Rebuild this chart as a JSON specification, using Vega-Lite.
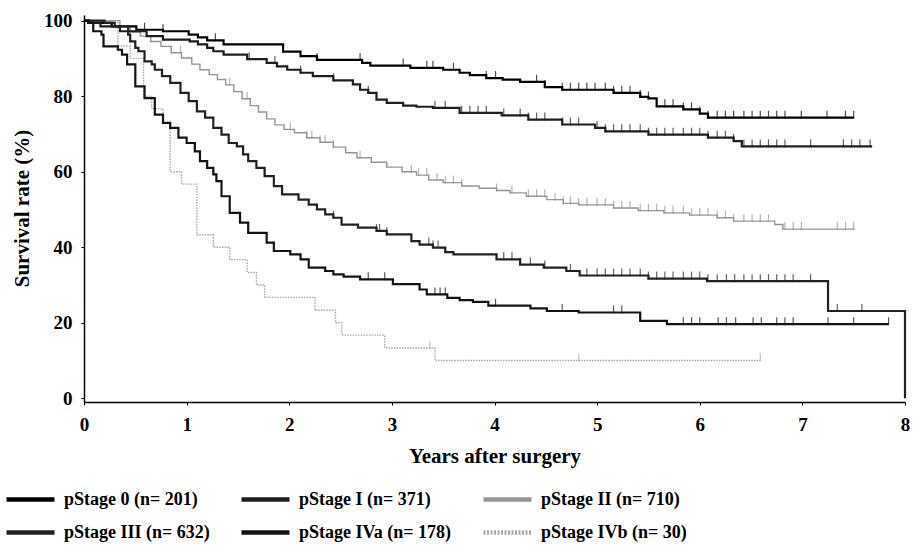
{
"$schema": "https://vega.github.io/schema/vega-lite/v6.json",
"width": 821, "height": 387,
"autosize": {"type": "none"},
"padding": {"left": 84, "top": 15, "right": 9, "bottom": 147},
"background": "white",
"config": {"view": {"stroke": null}, "font": "Liberation Serif"},
"datasets": {
"curves": [
{"s":"0","t":0,"p":100},{"s":"0","t":0.05,"p":99.4},{"s":"0","t":0.27,"p":98.5},{"s":"0","t":0.51,"p":97.6},{"s":"0","t":0.77,"p":97.2},{"s":"0","t":1.02,"p":96.3},{"s":"0","t":1.11,"p":95.6},{"s":"0","t":1.2,"p":94.8},{"s":"0","t":1.36,"p":93.7},{"s":"0","t":1.94,"p":91.8},{"s":"0","t":2.11,"p":90.6},{"s":"0","t":2.27,"p":89.6},{"s":"0","t":2.71,"p":88.8},{"s":"0","t":2.79,"p":88.1},{"s":"0","t":3.18,"p":87.5},{"s":"0","t":3.5,"p":87.0},{"s":"0","t":3.66,"p":86.2},{"s":"0","t":3.76,"p":85.6},{"s":"0","t":3.92,"p":84.8},{"s":"0","t":4.08,"p":84.4},{"s":"0","t":4.25,"p":83.8},{"s":"0","t":4.49,"p":82.4},{"s":"0","t":4.66,"p":81.7},{"s":"0","t":5.16,"p":80.9},{"s":"0","t":5.42,"p":79.8},{"s":"0","t":5.5,"p":79.4},{"s":"0","t":5.58,"p":77.3},{"s":"0","t":5.84,"p":76.5},{"s":"0","t":6.0,"p":75.4},{"s":"0","t":6.08,"p":74.3},{"s":"0","t":7.5,"p":74.3},
{"s":"I","t":0,"p":100},{"s":"I","t":0.05,"p":99.4},{"s":"I","t":0.16,"p":98.5},{"s":"I","t":0.35,"p":97.2},{"s":"I","t":0.61,"p":95.9},{"s":"I","t":0.77,"p":95.0},{"s":"I","t":1.03,"p":94.5},{"s":"I","t":1.11,"p":93.7},{"s":"I","t":1.2,"p":92.8},{"s":"I","t":1.26,"p":91.9},{"s":"I","t":1.36,"p":91.0},{"s":"I","t":1.59,"p":89.8},{"s":"I","t":1.78,"p":88.8},{"s":"I","t":1.88,"p":87.9},{"s":"I","t":1.98,"p":87.0},{"s":"I","t":2.11,"p":86.2},{"s":"I","t":2.23,"p":85.3},{"s":"I","t":2.43,"p":84.2},{"s":"I","t":2.62,"p":83.1},{"s":"I","t":2.69,"p":81.7},{"s":"I","t":2.77,"p":80.9},{"s":"I","t":2.85,"p":79.1},{"s":"I","t":2.95,"p":78.2},{"s":"I","t":3.11,"p":77.5},{"s":"I","t":3.24,"p":77.2},{"s":"I","t":3.4,"p":76.9},{"s":"I","t":3.66,"p":75.6},{"s":"I","t":4.07,"p":74.9},{"s":"I","t":4.33,"p":73.8},{"s":"I","t":4.66,"p":72.5},{"s":"I","t":4.98,"p":71.6},{"s":"I","t":5.08,"p":70.7},{"s":"I","t":5.5,"p":69.8},{"s":"I","t":6.08,"p":69.0},{"s":"I","t":6.33,"p":68.1},{"s":"I","t":6.41,"p":66.7},{"s":"I","t":7.68,"p":66.7},
{"s":"II","t":0,"p":100},{"s":"II","t":0.35,"p":98.5},{"s":"II","t":0.45,"p":97.0},{"s":"II","t":0.55,"p":95.9},{"s":"II","t":0.65,"p":94.5},{"s":"II","t":0.75,"p":93.2},{"s":"II","t":0.85,"p":91.5},{"s":"II","t":0.95,"p":90.1},{"s":"II","t":1.05,"p":88.5},{"s":"II","t":1.13,"p":87.0},{"s":"II","t":1.22,"p":85.7},{"s":"II","t":1.3,"p":84.4},{"s":"II","t":1.38,"p":83.0},{"s":"II","t":1.46,"p":81.2},{"s":"II","t":1.54,"p":79.3},{"s":"II","t":1.62,"p":77.5},{"s":"II","t":1.7,"p":75.8},{"s":"II","t":1.78,"p":74.0},{"s":"II","t":1.86,"p":72.4},{"s":"II","t":1.95,"p":71.2},{"s":"II","t":2.05,"p":70.3},{"s":"II","t":2.17,"p":69.0},{"s":"II","t":2.3,"p":67.8},{"s":"II","t":2.43,"p":66.5},{"s":"II","t":2.55,"p":65.0},{"s":"II","t":2.66,"p":63.7},{"s":"II","t":2.8,"p":62.5},{"s":"II","t":2.95,"p":61.2},{"s":"II","t":3.1,"p":60.0},{"s":"II","t":3.24,"p":59.1},{"s":"II","t":3.36,"p":57.8},{"s":"II","t":3.5,"p":57.1},{"s":"II","t":3.68,"p":56.2},{"s":"II","t":3.85,"p":55.6},{"s":"II","t":4.02,"p":55.0},{"s":"II","t":4.15,"p":54.4},{"s":"II","t":4.31,"p":53.5},{"s":"II","t":4.51,"p":52.6},{"s":"II","t":4.67,"p":51.6},{"s":"II","t":4.82,"p":51.2},{"s":"II","t":5.16,"p":50.4},{"s":"II","t":5.4,"p":49.7},{"s":"II","t":5.65,"p":49.1},{"s":"II","t":5.9,"p":48.5},{"s":"II","t":6.17,"p":47.8},{"s":"II","t":6.33,"p":46.9},{"s":"II","t":6.73,"p":46.0},{"s":"II","t":6.81,"p":44.8},{"s":"II","t":7.51,"p":44.8},
{"s":"III","t":0,"p":100},{"s":"III","t":0.2,"p":99.4},{"s":"III","t":0.3,"p":98.5},{"s":"III","t":0.43,"p":96.3},{"s":"III","t":0.45,"p":94.5},{"s":"III","t":0.5,"p":92.8},{"s":"III","t":0.53,"p":91.9},{"s":"III","t":0.59,"p":89.2},{"s":"III","t":0.66,"p":88.4},{"s":"III","t":0.69,"p":87.0},{"s":"III","t":0.76,"p":85.3},{"s":"III","t":0.84,"p":83.5},{"s":"III","t":0.94,"p":80.9},{"s":"III","t":1.02,"p":78.7},{"s":"III","t":1.1,"p":76.0},{"s":"III","t":1.18,"p":74.3},{"s":"III","t":1.26,"p":71.6},{"s":"III","t":1.34,"p":69.8},{"s":"III","t":1.41,"p":67.6},{"s":"III","t":1.49,"p":66.7},{"s":"III","t":1.55,"p":64.6},{"s":"III","t":1.6,"p":62.8},{"s":"III","t":1.68,"p":61.0},{"s":"III","t":1.76,"p":58.8},{"s":"III","t":1.85,"p":56.2},{"s":"III","t":1.93,"p":54.0},{"s":"III","t":2.09,"p":52.6},{"s":"III","t":2.19,"p":51.3},{"s":"III","t":2.27,"p":50.0},{"s":"III","t":2.35,"p":48.7},{"s":"III","t":2.43,"p":47.8},{"s":"III","t":2.51,"p":46.0},{"s":"III","t":2.67,"p":45.2},{"s":"III","t":2.85,"p":44.3},{"s":"III","t":2.95,"p":43.4},{"s":"III","t":3.19,"p":41.6},{"s":"III","t":3.27,"p":40.7},{"s":"III","t":3.4,"p":39.9},{"s":"III","t":3.52,"p":38.7},{"s":"III","t":3.6,"p":38.1},{"s":"III","t":4.02,"p":36.8},{"s":"III","t":4.25,"p":35.4},{"s":"III","t":4.48,"p":34.6},{"s":"III","t":4.7,"p":33.7},{"s":"III","t":4.83,"p":32.5},{"s":"III","t":5.5,"p":31.7},{"s":"III","t":6.07,"p":31.0},{"s":"III","t":7.25,"p":23.1},{"s":"III","t":8.0,"p":0},
{"s":"IVa","t":0,"p":100},{"s":"IVa","t":0.04,"p":99.4},{"s":"IVa","t":0.09,"p":97.2},{"s":"IVa","t":0.17,"p":96.3},{"s":"IVa","t":0.19,"p":93.2},{"s":"IVa","t":0.33,"p":92.3},{"s":"IVa","t":0.37,"p":91.0},{"s":"IVa","t":0.42,"p":88.4},{"s":"IVa","t":0.5,"p":82.6},{"s":"IVa","t":0.59,"p":79.5},{"s":"IVa","t":0.69,"p":75.1},{"s":"IVa","t":0.77,"p":72.9},{"s":"IVa","t":0.84,"p":71.6},{"s":"IVa","t":0.92,"p":69.0},{"s":"IVa","t":1.0,"p":67.6},{"s":"IVa","t":1.08,"p":65.4},{"s":"IVa","t":1.13,"p":62.8},{"s":"IVa","t":1.2,"p":61.0},{"s":"IVa","t":1.26,"p":59.3},{"s":"IVa","t":1.29,"p":57.5},{"s":"IVa","t":1.34,"p":53.5},{"s":"IVa","t":1.42,"p":49.1},{"s":"IVa","t":1.52,"p":46.5},{"s":"IVa","t":1.6,"p":43.8},{"s":"IVa","t":1.78,"p":41.2},{"s":"IVa","t":1.85,"p":39.0},{"s":"IVa","t":2.01,"p":38.1},{"s":"IVa","t":2.11,"p":36.8},{"s":"IVa","t":2.19,"p":34.6},{"s":"IVa","t":2.35,"p":33.7},{"s":"IVa","t":2.43,"p":32.8},{"s":"IVa","t":2.53,"p":32.2},{"s":"IVa","t":2.69,"p":31.5},{"s":"IVa","t":3.01,"p":30.2},{"s":"IVa","t":3.27,"p":28.8},{"s":"IVa","t":3.34,"p":27.5},{"s":"IVa","t":3.54,"p":26.6},{"s":"IVa","t":3.66,"p":26.0},{"s":"IVa","t":3.79,"p":25.5},{"s":"IVa","t":3.94,"p":24.5},{"s":"IVa","t":4.35,"p":23.8},{"s":"IVa","t":4.51,"p":23.1},{"s":"IVa","t":4.82,"p":22.7},{"s":"IVa","t":5.42,"p":20.5},{"s":"IVa","t":5.68,"p":19.6},{"s":"IVa","t":7.84,"p":19.6},
{"s":"IVb","t":0,"p":100},{"s":"IVb","t":0.33,"p":93.3},{"s":"IVb","t":0.45,"p":90.0},{"s":"IVb","t":0.58,"p":80.0},{"s":"IVb","t":0.66,"p":76.7},{"s":"IVb","t":0.77,"p":73.3},{"s":"IVb","t":0.84,"p":60.0},{"s":"IVb","t":0.95,"p":56.7},{"s":"IVb","t":1.1,"p":43.3},{"s":"IVb","t":1.26,"p":40.0},{"s":"IVb","t":1.42,"p":36.7},{"s":"IVb","t":1.59,"p":33.3},{"s":"IVb","t":1.68,"p":30.0},{"s":"IVb","t":1.76,"p":26.7},{"s":"IVb","t":2.25,"p":23.3},{"s":"IVb","t":2.45,"p":20.0},{"s":"IVb","t":2.51,"p":16.7},{"s":"IVb","t":2.93,"p":13.3},{"s":"IVb","t":3.42,"p":10.0},{"s":"IVb","t":6.59,"p":10.0}
],
"censor": [
{"s":"0","t":0.59,"p":97.6},{"s":"0","t":0.77,"p":97.2},{"s":"0","t":1.28,"p":94.8},{"s":"0","t":1.94,"p":91.8},{"s":"0","t":2.27,"p":89.6},{"s":"0","t":2.69,"p":89.6},{"s":"0","t":3.11,"p":88.1},{"s":"0","t":3.34,"p":87.5},{"s":"0","t":3.4,"p":87.5},{"s":"0","t":3.6,"p":87.0},{"s":"0","t":3.92,"p":84.8},{"s":"0","t":4.01,"p":84.8},{"s":"0","t":4.41,"p":83.8},{"s":"0","t":4.49,"p":82.4},{"s":"0","t":4.66,"p":81.7},{"s":"0","t":4.74,"p":81.7},{"s":"0","t":4.82,"p":81.7},{"s":"0","t":4.9,"p":81.7},{"s":"0","t":4.98,"p":81.7},{"s":"0","t":5.08,"p":81.7},{"s":"0","t":5.16,"p":80.9},{"s":"0","t":5.24,"p":80.9},{"s":"0","t":5.32,"p":80.9},{"s":"0","t":5.42,"p":79.8},{"s":"0","t":5.5,"p":79.4},{"s":"0","t":5.66,"p":77.3},{"s":"0","t":5.74,"p":77.3},{"s":"0","t":5.84,"p":76.5},{"s":"0","t":5.92,"p":76.5},{"s":"0","t":6.0,"p":75.4},{"s":"0","t":6.08,"p":74.3},{"s":"0","t":6.17,"p":74.3},{"s":"0","t":6.25,"p":74.3},{"s":"0","t":6.33,"p":74.3},{"s":"0","t":6.43,"p":74.3},{"s":"0","t":6.51,"p":74.3},{"s":"0","t":6.59,"p":74.3},{"s":"0","t":6.67,"p":74.3},{"s":"0","t":6.75,"p":74.3},{"s":"0","t":6.83,"p":74.3},{"s":"0","t":6.99,"p":74.3},{"s":"0","t":7.24,"p":74.3},{"s":"0","t":7.42,"p":74.3},{"s":"0","t":7.5,"p":74.3},
{"s":"I","t":1.61,"p":89.8},{"s":"I","t":1.86,"p":88.8},{"s":"I","t":2.11,"p":86.2},{"s":"I","t":2.43,"p":84.2},{"s":"I","t":2.77,"p":80.9},{"s":"I","t":3.42,"p":76.9},{"s":"I","t":3.52,"p":76.9},{"s":"I","t":3.68,"p":75.6},{"s":"I","t":3.76,"p":75.6},{"s":"I","t":3.84,"p":75.6},{"s":"I","t":3.92,"p":75.6},{"s":"I","t":4.09,"p":74.9},{"s":"I","t":4.25,"p":74.9},{"s":"I","t":4.33,"p":73.8},{"s":"I","t":4.41,"p":73.8},{"s":"I","t":4.49,"p":73.8},{"s":"I","t":4.66,"p":72.5},{"s":"I","t":4.74,"p":72.5},{"s":"I","t":4.82,"p":72.5},{"s":"I","t":5.0,"p":71.6},{"s":"I","t":5.08,"p":70.7},{"s":"I","t":5.16,"p":70.7},{"s":"I","t":5.24,"p":70.7},{"s":"I","t":5.32,"p":70.7},{"s":"I","t":5.42,"p":70.7},{"s":"I","t":5.5,"p":69.8},{"s":"I","t":5.58,"p":69.8},{"s":"I","t":5.66,"p":69.8},{"s":"I","t":5.74,"p":69.8},{"s":"I","t":5.84,"p":69.8},{"s":"I","t":5.92,"p":69.8},{"s":"I","t":6.0,"p":69.8},{"s":"I","t":6.08,"p":69.0},{"s":"I","t":6.17,"p":69.0},{"s":"I","t":6.25,"p":69.0},{"s":"I","t":6.33,"p":68.1},{"s":"I","t":6.43,"p":66.7},{"s":"I","t":6.51,"p":66.7},{"s":"I","t":6.59,"p":66.7},{"s":"I","t":6.67,"p":66.7},{"s":"I","t":6.75,"p":66.7},{"s":"I","t":6.83,"p":66.7},{"s":"I","t":7.08,"p":66.7},{"s":"I","t":7.4,"p":66.7},{"s":"I","t":7.48,"p":66.7},{"s":"I","t":7.56,"p":66.7},{"s":"I","t":7.66,"p":66.7},
{"s":"II","t":0.94,"p":91.5},{"s":"II","t":1.42,"p":83.0},{"s":"II","t":1.59,"p":79.3},{"s":"II","t":2.01,"p":71.2},{"s":"II","t":2.17,"p":69.0},{"s":"II","t":2.22,"p":69.0},{"s":"II","t":2.3,"p":67.8},{"s":"II","t":2.35,"p":67.8},{"s":"II","t":2.43,"p":66.5},{"s":"II","t":2.69,"p":63.7},{"s":"II","t":3.19,"p":60.0},{"s":"II","t":3.26,"p":59.1},{"s":"II","t":3.34,"p":59.1},{"s":"II","t":3.44,"p":57.8},{"s":"II","t":3.52,"p":57.1},{"s":"II","t":3.6,"p":57.1},{"s":"II","t":3.68,"p":56.2},{"s":"II","t":4.02,"p":55.0},{"s":"II","t":4.17,"p":54.4},{"s":"II","t":4.33,"p":53.5},{"s":"II","t":4.41,"p":53.5},{"s":"II","t":4.49,"p":53.5},{"s":"II","t":4.59,"p":52.6},{"s":"II","t":4.67,"p":51.6},{"s":"II","t":4.74,"p":51.6},{"s":"II","t":4.82,"p":51.2},{"s":"II","t":4.9,"p":51.2},{"s":"II","t":5.0,"p":51.2},{"s":"II","t":5.08,"p":51.2},{"s":"II","t":5.16,"p":50.4},{"s":"II","t":5.24,"p":50.4},{"s":"II","t":5.32,"p":50.4},{"s":"II","t":5.42,"p":49.7},{"s":"II","t":5.5,"p":49.7},{"s":"II","t":5.58,"p":49.7},{"s":"II","t":5.66,"p":49.1},{"s":"II","t":5.74,"p":49.1},{"s":"II","t":5.84,"p":49.1},{"s":"II","t":5.92,"p":48.5},{"s":"II","t":6.0,"p":48.5},{"s":"II","t":6.08,"p":48.5},{"s":"II","t":6.17,"p":47.8},{"s":"II","t":6.25,"p":47.8},{"s":"II","t":6.33,"p":46.9},{"s":"II","t":6.43,"p":46.9},{"s":"II","t":6.51,"p":46.9},{"s":"II","t":6.59,"p":46.9},{"s":"II","t":6.67,"p":46.9},{"s":"II","t":6.83,"p":44.8},{"s":"II","t":6.91,"p":44.8},{"s":"II","t":6.99,"p":44.8},{"s":"II","t":7.34,"p":44.8},{"s":"II","t":7.42,"p":44.8},{"s":"II","t":7.5,"p":44.8},
{"s":"III","t":1.76,"p":58.8},{"s":"III","t":2.43,"p":47.8},{"s":"III","t":2.85,"p":44.3},{"s":"III","t":2.88,"p":44.3},{"s":"III","t":2.95,"p":43.4},{"s":"III","t":3.36,"p":40.7},{"s":"III","t":3.4,"p":39.9},{"s":"III","t":3.45,"p":39.9},{"s":"III","t":4.09,"p":36.8},{"s":"III","t":4.17,"p":36.8},{"s":"III","t":4.25,"p":35.4},{"s":"III","t":4.35,"p":35.4},{"s":"III","t":4.49,"p":34.6},{"s":"III","t":4.74,"p":33.7},{"s":"III","t":4.9,"p":32.5},{"s":"III","t":5.0,"p":32.5},{"s":"III","t":5.08,"p":32.5},{"s":"III","t":5.16,"p":32.5},{"s":"III","t":5.24,"p":32.5},{"s":"III","t":5.32,"p":32.5},{"s":"III","t":5.42,"p":32.5},{"s":"III","t":5.5,"p":31.7},{"s":"III","t":5.58,"p":31.7},{"s":"III","t":5.66,"p":31.7},{"s":"III","t":5.74,"p":31.7},{"s":"III","t":5.84,"p":31.7},{"s":"III","t":5.92,"p":31.7},{"s":"III","t":6.0,"p":31.7},{"s":"III","t":6.08,"p":31.0},{"s":"III","t":6.17,"p":31.0},{"s":"III","t":6.26,"p":31.0},{"s":"III","t":6.34,"p":31.0},{"s":"III","t":6.43,"p":31.0},{"s":"III","t":6.51,"p":31.0},{"s":"III","t":6.59,"p":31.0},{"s":"III","t":6.67,"p":31.0},{"s":"III","t":6.75,"p":31.0},{"s":"III","t":6.83,"p":31.0},{"s":"III","t":6.91,"p":31.0},{"s":"III","t":7.08,"p":31.0},{"s":"III","t":7.34,"p":23.1},{"s":"III","t":7.58,"p":23.1},
{"s":"IVa","t":2.77,"p":31.5},{"s":"IVa","t":2.93,"p":31.5},{"s":"IVa","t":3.42,"p":27.5},{"s":"IVa","t":3.47,"p":27.5},{"s":"IVa","t":3.52,"p":27.5},{"s":"IVa","t":4.01,"p":24.5},{"s":"IVa","t":4.66,"p":23.1},{"s":"IVa","t":5.16,"p":22.7},{"s":"IVa","t":5.24,"p":22.7},{"s":"IVa","t":5.42,"p":20.5},{"s":"IVa","t":5.84,"p":19.6},{"s":"IVa","t":5.92,"p":19.6},{"s":"IVa","t":6.0,"p":19.6},{"s":"IVa","t":6.18,"p":19.6},{"s":"IVa","t":6.26,"p":19.6},{"s":"IVa","t":6.35,"p":19.6},{"s":"IVa","t":6.52,"p":19.6},{"s":"IVa","t":6.6,"p":19.6},{"s":"IVa","t":6.75,"p":19.6},{"s":"IVa","t":6.83,"p":19.6},{"s":"IVa","t":6.91,"p":19.6},{"s":"IVa","t":7.25,"p":19.6},{"s":"IVa","t":7.5,"p":19.6},{"s":"IVa","t":7.84,"p":19.6},
{"s":"IVb","t":3.37,"p":13.3},{"s":"IVb","t":4.82,"p":10.0},{"s":"IVb","t":6.59,"p":10.0}
]
},
"encoding": {
"x": {"field": "t", "type": "quantitative", "scale": {"domain": [0, 8], "nice": false, "zero": false},
  "axis": {"values": [0,1,2,3,4,5,6,7,8], "title": "Years after surgery", "grid": false, "titleFont": "Liberation Serif", "titleFontSize": 21, "titleFontWeight": "bold", "titleColor": "black", "titleY": 60, "titleBaseline": "alphabetic", "labelFont": "Liberation Serif", "labelFontSize": 19, "labelFontWeight": "bold", "labelColor": "black", "labelPadding": 10, "labelFlush": false, "domainColor": "black", "domainWidth": 1.5, "tickColor": "black", "tickSize": 3}},
"y": {"field": "p", "type": "quantitative", "scale": {"domain": [-1, 101.5], "nice": false, "zero": false},
  "axis": {"values": [0,20,40,60,80,100], "title": "Survival rate (%)", "grid": false, "titleFont": "Liberation Serif", "titleFontSize": 21, "titleFontWeight": "bold", "titleColor": "black", "titleX": -62, "titleY": 193, "titleAlign": "center", "titleBaseline": "middle", "titleAngle": -90, "labelFont": "Liberation Serif", "labelFontSize": 19, "labelFontWeight": "bold", "labelColor": "black", "labelPadding": 9, "domainColor": "black", "domainWidth": 1.5, "tickColor": "black", "tickSize": 3}}
},
"resolve": {"legend": {"color": "independent", "strokeDash": "independent"}},
"layer": [
{"data": {"name": "curves"},
 "mark": {"type": "line", "interpolate": "step-after", "strokeWidth": 2.2, "opacity": 0},
 "encoding": {
  "color": {"field": "s", "type": "nominal", "scale": {"domain": ["0","I","II","III","IVa","IVb"], "range": ["#000000","#1e1e1e","#959595","#222222","#141414","#a9a9a9"]},
   "legend": {"orient": "none", "legendX": -80, "legendY": 475, "columns": 3, "direction": "horizontal", "gridAlign": "none", "columnPadding": 29, "rowPadding": 14, "clipHeight": 19, "symbolType": "stroke", "symbolSize": 2304, "symbolStrokeWidth": 4.5, "symbolOpacity": 1, "labelFont": "Liberation Serif", "labelFontSize": 18, "labelFontWeight": "bold", "labelColor": "black", "labelOffset": 7, "title": null,
    "labelExpr": "({'0':'pStage 0 (n= 201)','I':'pStage I (n= 371)','II':'pStage II (n= 710)','III':'pStage III (n= 632)','IVa':'pStage IVa (n= 178)','IVb':'pStage IVb (n= 30)'})[datum.label]",
    "encode": {"symbols": {"update": {"opacity": {"value": 1}, "strokeWidth": {"value": 4.5},
      "stroke": {"signal": "({'0':'#111111','I':'#4a4a4a','II':'#9a9a9a','III':'#6e6e6e','IVa':'#4a4a4a','IVb':'#b5b5b5'})[datum.value]"},
      "strokeDash": {"signal": "datum.value == 'IVb' ? [2,1.5] : [1,0]"}}}}}}
 }},
{"data": {"name": "curves"}, "transform": [{"filter": "datum.s == 'II' || datum.s == 'IVb'"}],
 "mark": {"type": "line", "interpolate": "step-after", "strokeWidth": 1.4},
 "encoding": {
  "color": {"field": "s", "type": "nominal", "legend": null},
  "strokeDash": {"field": "s", "type": "nominal", "scale": {"domain": ["II","IVb"], "range": [[1,0],[1.5,1.2]]}, "legend": null}
 }},
{"data": {"name": "curves"}, "transform": [{"filter": "datum.s != 'II' && datum.s != 'IVb'"}],
 "mark": {"type": "line", "interpolate": "step-after", "strokeWidth": 2.2},
 "encoding": {
  "color": {"field": "s", "type": "nominal", "legend": null}
 }},
{"data": {"name": "censor"},
 "mark": {"type": "tick", "orient": "vertical", "size": 8, "thickness": 1.2, "yOffset": -3},
 "encoding": {
  "color": {"field": "s", "type": "nominal", "legend": null}
 }}
]
}
